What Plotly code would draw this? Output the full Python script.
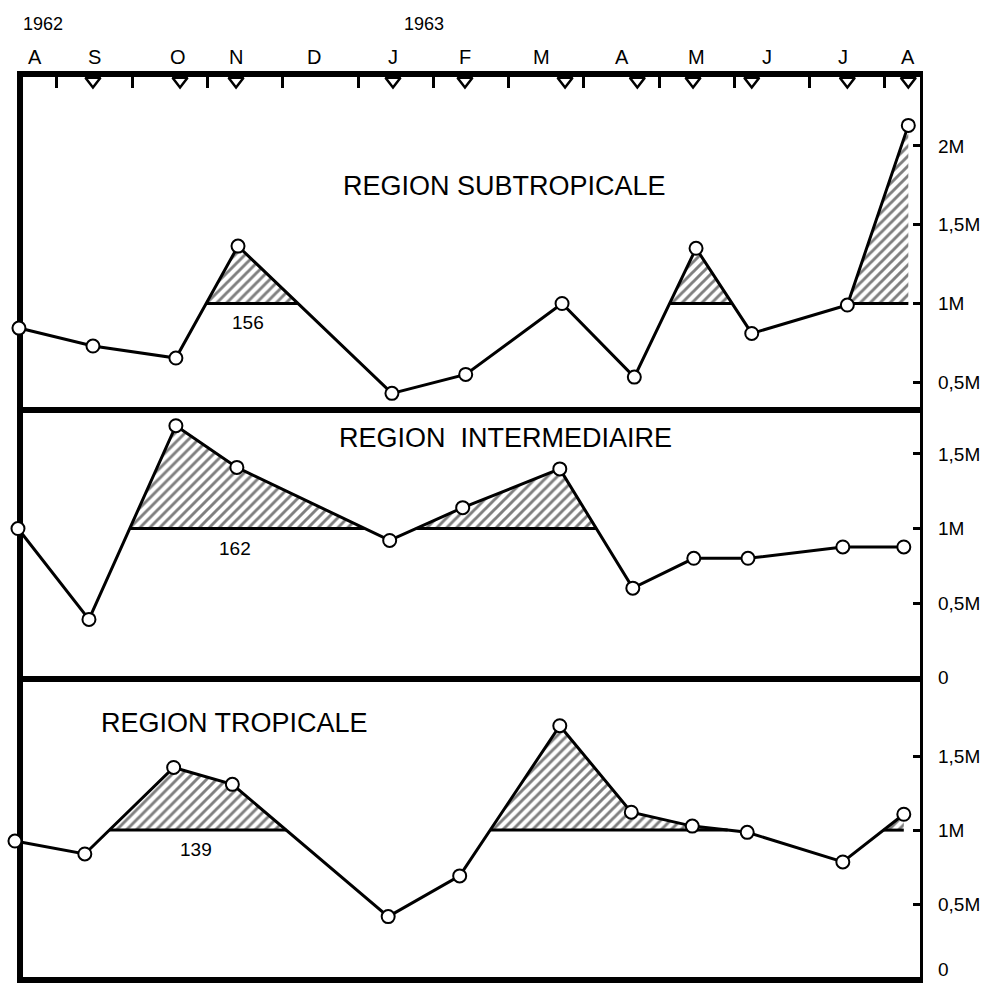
import plotly.graph_objects as go

# ---------------- data ----------------
# x unit = month; 1.0 = start of September 1962, 12.0 = start of August 1963
month_labels = ["A", "S", "O", "N", "D", "J", "F", "M", "A", "M", "J", "J", "A"]
month_label_pos = [0.71, 1.505, 2.61, 3.38, 4.415, 5.46, 6.42, 7.44, 8.51, 9.50, 10.43, 11.44, 12.31]
month_bounds = [1, 2, 3, 4, 5, 6, 7, 8, 9, 10, 11, 12]
sampling_dates = [1.478, 2.635, 3.379, 5.464, 6.42, 7.75, 8.71, 9.45, 10.23, 11.50, 12.31]
year_labels = ["1962", "1963"]
year_pos = [0.81, 5.88]

sub_x = [0.495, 1.478, 2.58, 3.405, 5.45, 6.43, 7.71, 8.67, 9.49, 10.23, 11.50, 12.31]
sub_y = [0.844, 0.73, 0.654, 1.364, 0.43, 0.55, 1.0, 0.533, 1.35, 0.81, 0.99, 2.13]

int_x = [0.482, 1.425, 2.58, 3.39, 5.42, 6.39, 7.68, 8.65, 9.46, 10.18, 11.44, 12.25]
int_y = [1.0, 0.39, 1.69, 1.41, 0.92, 1.14, 1.40, 0.60, 0.80, 0.80, 0.876, 0.876]

tro_x = [0.442, 1.37, 2.55, 3.33, 5.40, 6.35, 7.68, 8.63, 9.44, 10.17, 11.44, 12.25]
tro_y = [0.926, 0.839, 1.423, 1.309, 0.416, 0.691, 1.705, 1.121, 1.027, 0.985, 0.785, 1.107]

threshold = 1.0
area_labels = ["156", "162", "139"]
titles = ["REGION SUBTROPICALE", "REGION\u00a0\u00a0INTERMEDIAIRE", "REGION TROPICALE"]

y_tick_vals = {
    "y": [0.5, 1, 1.5, 2],
    "y2": [0, 0.5, 1, 1.5],
    "y3": [0.5, 1, 1.5],
}
y_tick_text = {
    "y": ["0,5M", "1M", "1,5M", "2M"],
    "y2": ["0", "0,5M", "1M", "1,5M"],
    "y3": ["0,5M", "1M", "1,5M"],
}
bottom_zero_label = "0"

# ---------------- layout constants ----------------
FONT = "Liberation Sans, Arial, Helvetica, sans-serif"
D1 = 0.6291  # divider between top and middle panel (paper)
D2 = 0.3322  # divider between middle and bottom panel (paper)
X_LEFT = 0.509   # left frame position (month units)
XR = [0.376, 12.505]


def regions(xs, ys, thr):
    polys = []
    cur = None
    for i in range(len(xs)):
        if ys[i] > thr:
            if cur is None:
                if i == 0:
                    cur = [(xs[0], thr)]
                else:
                    t = (thr - ys[i - 1]) / (ys[i] - ys[i - 1])
                    cur = [(xs[i - 1] + t * (xs[i] - xs[i - 1]), thr)]
            cur.append((xs[i], ys[i]))
        else:
            if cur is not None:
                t = (thr - ys[i - 1]) / (ys[i] - ys[i - 1])
                cur.append((xs[i - 1] + t * (xs[i] - xs[i - 1]), thr))
                polys.append(cur)
                cur = None
    if cur is not None:
        cur.append((xs[-1], thr))
        polys.append(cur)
    return polys


fig = go.Figure()

panels = [("x", "y", sub_x, sub_y), ("x2", "y2", int_x, int_y), ("x3", "y3", tro_x, tro_y)]

for xa, ya, xs, ys in panels:
    polys = regions(xs, ys, threshold)
    bx, by = [], []
    for p in polys:
        fig.add_trace(go.Scatter(
            x=[q[0] for q in p], y=[q[1] for q in p], xaxis=xa, yaxis=ya,
            mode="lines", fill="toself", line=dict(width=0, color="black"),
            fillcolor="white",
            fillpattern=dict(shape="/", size=7, solidity=0.42, fgcolor="black", bgcolor="white"),
            hoverinfo="skip", showlegend=False))
        bx += [p[0][0], p[-1][0], None]
        by += [threshold, threshold, None]
    fig.add_trace(go.Scatter(
        x=bx, y=by, xaxis=xa, yaxis=ya, mode="lines",
        line=dict(width=3, color="black"), hoverinfo="skip", showlegend=False))
    fig.add_trace(go.Scatter(
        x=xs, y=ys, xaxis=xa, yaxis=ya, mode="lines+markers",
        line=dict(width=3, color="black"),
        marker=dict(symbol="circle", size=13, color="white", line=dict(width=2, color="black")),
        cliponaxis=False, showlegend=False))

# sampling date triangles below the top border
fig.add_trace(go.Scatter(
    x=sampling_dates, y=[0.979] * len(sampling_dates), xaxis="x", yaxis="y4",
    mode="markers",
    marker=dict(symbol="triangle-down-open", size=13, color="black", line=dict(width=2.5, color="black")),
    cliponaxis=False, showlegend=False, hoverinfo="skip"))

common_x = dict(range=XR, showgrid=False, zeroline=False, showline=False, fixedrange=True)
fig.update_layout(
    width=987, height=984,
    margin=dict(l=10, r=64, t=74, b=4, autoexpand=False),
    paper_bgcolor="white", plot_bgcolor="white",
    font=dict(family=FONT, color="black", size=19),
    xaxis=dict(common_x, anchor="y", side="top", tickmode="array", tickvals=month_bounds,
               ticks="inside", ticklen=14, tickwidth=3, tickcolor="black", showticklabels=False,
               automargin=False),
    xaxis2=dict(common_x, anchor="y2", matches="x", showticklabels=False, ticks="", automargin=False),
    xaxis3=dict(common_x, anchor="y3", matches="x", showticklabels=False, ticks="", automargin=False),
    yaxis4=dict(range=[0, 1], overlaying="y", visible=False, fixedrange=True),
)

y_ranges = {"y": [0.324, 2.456], "y2": [-0.01, 1.795], "y3": [-0.012, 2.02]}
y_domains = {"y": [D1, 1.0], "y2": [D2, D1], "y3": [0.0, D2]}
anchors = {"y": "x", "y2": "x2", "y3": "x3"}
for key in ["y", "y2", "y3"]:
    name = "yaxis" if key == "y" else "yaxis" + key[1:]
    fig.layout[name] = dict(
        domain=y_domains[key], range=y_ranges[key], anchor=anchors[key], side="right",
        tickmode="array", tickvals=y_tick_vals[key], ticktext=y_tick_text[key],
        ticks="inside", ticklen=10, tickwidth=3, tickcolor="black",
        ticklabelstandoff=14, tickfont=dict(size=19, family=FONT), automargin=False,
        ticklabeloverflow="allow",
        showgrid=False, zeroline=False, showline=False, fixedrange=True)

# frame
frame = dict(type="line", xref="x", yref="paper", layer="below", line=dict(color="black", width=6))
shapes = []
for yy in [0.0, D2, D1, 1.0]:
    shapes.append(dict(frame, x0=X_LEFT - 0.04, x1=XR[1] + 0.04, y0=yy, y1=yy))
for xx in [X_LEFT, XR[1]]:
    shapes.append(dict(frame, x0=xx, x1=xx, y0=-0.003, y1=1.003))
fig.update_layout(shapes=shapes)

ann = []
for t, xp in zip(year_labels, year_pos):
    ann.append(dict(text=t, x=xp, y=1.055, xref="x", yref="paper", showarrow=False,
                    xanchor="center", yanchor="middle", font=dict(size=18, family=FONT)))
for t, xp in zip(month_labels, month_label_pos):
    ann.append(dict(text=t, x=xp, y=1.0188, xref="x", yref="paper", showarrow=False,
                    xanchor="center", yanchor="middle", font=dict(size=20, family=FONT)))
# zero label of the bottom panel, kept just inside the page
ann.append(dict(text=bottom_zero_label, x=1.0, y=0.0, xref="paper", yref="paper", showarrow=False,
                xanchor="left", yanchor="bottom", xshift=13, yshift=-2, font=dict(size=19, family=FONT)))
tfont = dict(size=27, family=FONT)
ann.append(dict(text=titles[0], x=6.95, y=1.745, xref="x", yref="y", showarrow=False, font=tfont))
ann.append(dict(text=titles[1], x=6.965, y=1.607, xref="x2", yref="y2", showarrow=False, font=tfont))
ann.append(dict(text=titles[2], x=3.365, y=1.725, xref="x3", yref="y3", showarrow=False, font=tfont))
afont = dict(size=19, family=FONT)
ann.append(dict(text=area_labels[0], x=3.54, y=0.882, xref="x", yref="y", showarrow=False, font=afont))
ann.append(dict(text=area_labels[1], x=3.365, y=0.869, xref="x2", yref="y2", showarrow=False, font=afont))
ann.append(dict(text=area_labels[2], x=2.85, y=0.866, xref="x3", yref="y3", showarrow=False, font=afont))
fig.update_layout(annotations=ann)

fig.write_html("out.html")
